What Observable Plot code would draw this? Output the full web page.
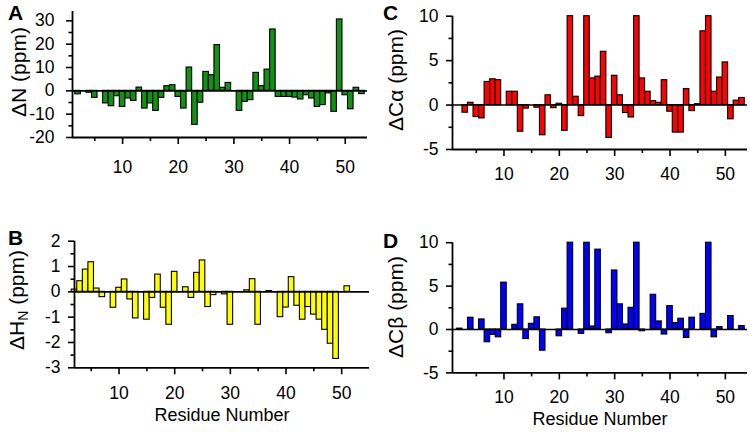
<!DOCTYPE html>
<html><head><meta charset="utf-8">
<script src="https://cdn.jsdelivr.net/npm/d3@7"></script>
<script src="https://cdn.jsdelivr.net/npm/@observablehq/plot@0.6"></script>
<style>
body{margin:0;background:#fff;}
#fig{position:relative;width:750px;height:432px;font-family:"Liberation Sans",Arial,sans-serif;overflow:hidden;background:#fff;color:#000}
.pw{position:absolute}
.ylab{position:absolute;font-size:21px;white-space:nowrap;transform:translate(-50%,-50%) rotate(-90deg);line-height:1}
.ylab sub{font-size:14px;vertical-align:-4px}
.let{position:absolute;font-weight:bold;font-size:21px;line-height:1}
.xt{position:absolute;font-size:18px;white-space:nowrap;transform:translate(-50%,-50%);line-height:1}
</style></head><body><div id="fig"></div>
<script>
// Residue numbers
const residues = [2,3,4,5,6,7,8,9,10,11,12,13,14,15,16,17,18,19,20,21,22,23,24,25,26,27,28,29,30,31,32,33,34,35,36,37,38,39,40,41,42,43,44,45,46,47,48,49,50,51,52,53];
// Panel A: ΔN (ppm)
const deltaN = [-1.5,0,-0.8,-3.0,0,-5.4,-6.6,-2.3,-6.9,-3.3,-4.3,1.4,-7.6,-5.4,-8.6,-3.0,2.0,2.4,-2.6,-7.6,10.0,-14.6,-5.1,8.1,6.7,19.6,1.3,3.4,0,-8.6,-4.7,-4.0,7.7,2.0,9.1,26.3,-2.6,-2.6,-2.6,-2.9,-3.7,-1.9,-3.3,-6.9,-6.1,-1.1,-9.0,30.6,-1.9,-7.9,1.3,-1.4];
// Panel B: ΔHN (ppm)
const deltaHN = [0.09,0.42,0.88,1.17,0.13,-0.21,0,-0.63,0.16,0.49,-0.3,-1.05,0,-1.1,-0.24,0.68,-0.63,-1.3,0.79,0,0.18,-0.24,0.75,1.24,-0.6,-0.13,0,-0.1,-1.3,0,0,0.06,0.5,-1.3,0,0.03,0,-1.0,-0.62,0.58,-0.55,-1.1,-0.6,-0.9,-1.1,-1.5,-2.05,-2.65,0,0.22,0,0];
// Panel C: ΔCα (ppm)
const deltaCa = [0,-0.86,0.26,-1.35,-1.5,2.6,2.9,2.8,0,1.5,1.5,-3.0,-0.4,0,-0.3,-3.4,1.1,-0.35,0.15,-2.9,10,0.94,-1.24,10,3.0,3.2,6.0,-3.7,3.3,1.1,-0.9,-1.4,10,3.0,1.5,0.45,0.26,2.8,-0.75,-3.1,-3.1,1.8,-0.68,0.1,8.3,10,1.5,3.1,4.8,-1.6,0.5,0.8];
// Panel D: ΔCβ (ppm)
const deltaCb = [0.1,0,1.36,0,1.16,-1.47,-0.62,-0.9,5.4,0,0.54,2.9,-1.1,0.66,1.4,-2.44,0,0,-0.78,2.4,10,0,-0.5,10,0.35,9.2,0,-0.43,6.8,2.9,0.58,2.5,10,-0.2,0,4.0,0.93,-0.58,2.7,0.74,1.24,-0.97,1.36,0,1.8,10,-0.9,0.27,0,1.55,0,0.4];

const xMajor = [10,20,30,40,50];
const xMinor = [5,15,25,35,45];

const fig = document.getElementById("fig");

function panel(o) {
  const data = residues.map((r, i) => ({r, v: o.values[i]})).filter(d => d.v !== 0 && d.v != null);
  const svg = Plot.plot({
    width: o.width, height: o.height,
    marginTop: o.mt, marginBottom: o.mb, marginLeft: o.ml, marginRight: o.mr,
    x: {domain: o.xdom},
    y: {domain: o.ydom},
    style: {fontFamily: "Liberation Sans, Arial, sans-serif", fontSize: "17px", color: "black", background: "transparent", overflow: "visible"},
    marks: [
      Plot.rectY(data, {x1: d => d.r - 0.5, x2: d => d.r + 0.5, y1: 0, y2: "v", fill: o.fill, stroke: "black", strokeWidth: 1.1}),
      Plot.ruleY([0], {stroke: "black", strokeWidth: 1.6}),
      Plot.ruleX([o.xdom[0]], {stroke: "black", strokeWidth: 1.8}),
      Plot.ruleY([o.ydom[0]], {stroke: "black", strokeWidth: 1.8}),
      Plot.axisY({ticks: o.yMajor, tickSize: 6, tickPadding: o.yPad, tickFormat: d => String(d), label: null, strokeWidth: 1.6, fontSize: 17.5}),
      Plot.axisY({ticks: o.yMinor, tickSize: 3.5, tickFormat: () => "", label: null, strokeWidth: 1.6}),
      Plot.axisX({ticks: xMajor, tickSize: 7, tickPadding: o.xPad, tickFormat: d => String(d), label: null, strokeWidth: 1.6, fontSize: 17.5}),
      Plot.axisX({ticks: xMinor, tickSize: 4, tickFormat: () => "", label: null, strokeWidth: 1.6})
    ]
  });
  const w = document.createElement("div");
  w.className = "pw";
  w.style.left = o.left + "px";
  w.style.top = o.top + "px";
  w.appendChild(svg);
  fig.appendChild(w);
}

panel({values: deltaN, fill: "#139113", left: 0, top: 0, width: 375, height: 185,
  mt: 11, mb: 48, ml: 72, mr: 8, xdom: [1, 54], ydom: [-20, 34],
  yMajor: [-20,-10,0,10,20,30], yMinor: [-15,-5,5,15,25], yPad: 12, xPad: 16});
panel({values: deltaHN, fill: "#ffff00", left: 0, top: 200, width: 375, height: 232,
  mt: 40.7, mb: 64.7, ml: 74, mr: 6, xdom: [2, 55], ydom: [-3, 2],
  yMajor: [-3,-2,-1,0,1,2], yMinor: [-2.5,-1.5,-0.5,0.5,1.5], yPad: 8, xPad: 12});
panel({values: deltaCa, fill: "#ff0000", left: 375, top: 0, width: 375, height: 185,
  mt: 15.7, mb: 36, ml: 77, mr: 3, xdom: [0.7, 54], ydom: [-5, 10],
  yMajor: [-5,0,5,10], yMinor: [-2.5,2.5,7.5], yPad: 8, xPad: 11});
panel({values: deltaCb, fill: "#0000ff", left: 375, top: 200, width: 375, height: 232,
  mt: 42.2, mb: 59.6, ml: 77, mr: 3, xdom: [0.7, 54], ydom: [-5, 10],
  yMajor: [-5,0,5,10], yMinor: [-2.5,2.5,7.5], yPad: 8, xPad: 11});

function addText(cls, html, x, y) {
  const d = document.createElement("div");
  d.className = cls;
  d.innerHTML = html;
  d.style.left = x + "px";
  d.style.top = y + "px";
  fig.appendChild(d);
}
addText("let", "A", 8, 2);
addText("let", "B", 8, 227);
addText("let", "C", 383, 2);
addText("let", "D", 383, 230);
addText("ylab", "ΔN (ppm)", 18, 72);
addText("ylab", "ΔH<sub>N</sub> (ppm)", 18, 300);
addText("ylab", "ΔCα (ppm)", 395, 80);
addText("ylab", "ΔCβ (ppm)", 395, 307);
addText("xt", "Residue Number", 222, 415);
addText("xt", "Residue Number", 600, 419);
</script></body></html>
